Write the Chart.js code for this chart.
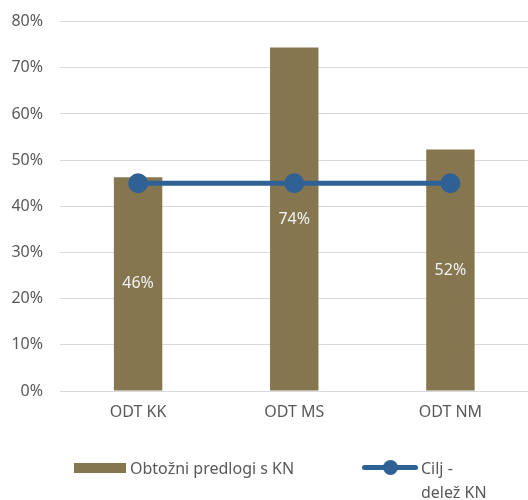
<!DOCTYPE html>
<html>
<head>
<meta charset="utf-8">
<script src="https://cdn.jsdelivr.net/npm/chart.js@4/dist/chart.umd.min.js"></script>
<style>
  body { margin: 0; background: #fff; }
  #wrap { position: relative; width: 528px; height: 500px; overflow: hidden; }
  #grafico { position: absolute; left: 0; top: -5px; }
  #legend { position: absolute; left: 0; top: 0; width: 528px; height: 500px; pointer-events: none;
    font-family: "Noto Sans", sans-serif; font-size: 16px; color: #595959; }
  .lg { position: absolute; }
</style>
</head>
<body>
<div id="wrap">
  <canvas id="grafico" width="541" height="505"></canvas>
  <div id="legend">
    <div class="lg" style="left:74px;top:463px;width:52px;height:10px;background:#857650"></div>
    <div class="lg" style="left:130px;top:456px;line-height:24px">Obtožni predlogi s KN</div>
    <div class="lg" style="left:362px;top:465px;width:56px;height:5px;border-radius:3px;background:#2F6195"></div>
    <div class="lg" style="left:383px;top:460px;width:15px;height:15px;border-radius:50%;background:#2F6195"></div>
    <div class="lg" style="left:421px;top:456px;line-height:24px">Cilj -<br>delež KN</div>
  </div>
</div>
<script>
// datos
const categorias = ['ODT KK', 'ODT MS', 'ODT NM'];
const predlogiKN = [46.3, 74.4, 52.3];
const ciljKN = [45, 45, 45];
const etiquetas = ['46%', '74%', '52%'];

const fuente = '"Noto Sans", sans-serif';

// etiquetas blancas en el centro de cada barra
const etiquetasBarras = {
  id: 'etiquetasBarras',
  afterDatasetsDraw(chart) {
    const ctx = chart.ctx;
    const meta = chart.getDatasetMeta(1);
    ctx.save();
    ctx.fillStyle = '#F2F2F2';
    ctx.font = '16px ' + fuente;
    ctx.textAlign = 'center';
    ctx.textBaseline = 'middle';
    meta.data.forEach((bar, i) => {
      const y = (bar.y + bar.base) / 2;
      ctx.fillText(etiquetas[i], bar.x, y);
    });
    ctx.restore();
  }
};

let chart;
function Loadchart() {
  const ctx = document.getElementById('grafico').getContext('2d');
  chart = new Chart(ctx, {
    data: {
      labels: categorias,
      datasets: [
        {
          type: 'line',
          label: 'Cilj - delež KN',
          data: ciljKN,
          borderColor: '#2F6195',
          backgroundColor: '#2F6195',
          borderWidth: 5,
          pointRadius: 7.5,
          pointHoverRadius: 7.5,
          order: 0
        },
        {
          type: 'bar',
          label: 'Obtožni predlogi s KN',
          data: predlogiKN,
          backgroundColor: '#857650',
          barPercentage: 1,
          categoryPercentage: 0.31,
          order: 1
        }
      ]
    },
    options: {
      responsive: false,
      animation: false,
      layout: { padding: { top: 16, right: 0, bottom: 59, left: 0 } },
      plugins: {
        legend: { display: false },
        tooltip: { enabled: false }
      },
      scales: {
        x: {
          grid: { display: false, drawTicks: false },
          border: { display: false },
          ticks: { color: '#595959', font: { family: fuente, size: 16 }, padding: 12 },
          afterFit(scale) { scale.height = 50; }
        },
        y: {
          min: 0,
          max: 80,
          grid: { color: '#D9D9D9', lineWidth: 1, drawTicks: false },
          border: { display: false },
          ticks: {
            stepSize: 10,
            color: '#595959',
            font: { family: fuente, size: 16 },
            padding: 17,
            callback: v => v + '%'
          },
          afterFit(scale) { scale.width = 60; }
        }
      }
    },
    plugins: [etiquetasBarras]
  });
}

Loadchart();
</script>
</body>
</html>
